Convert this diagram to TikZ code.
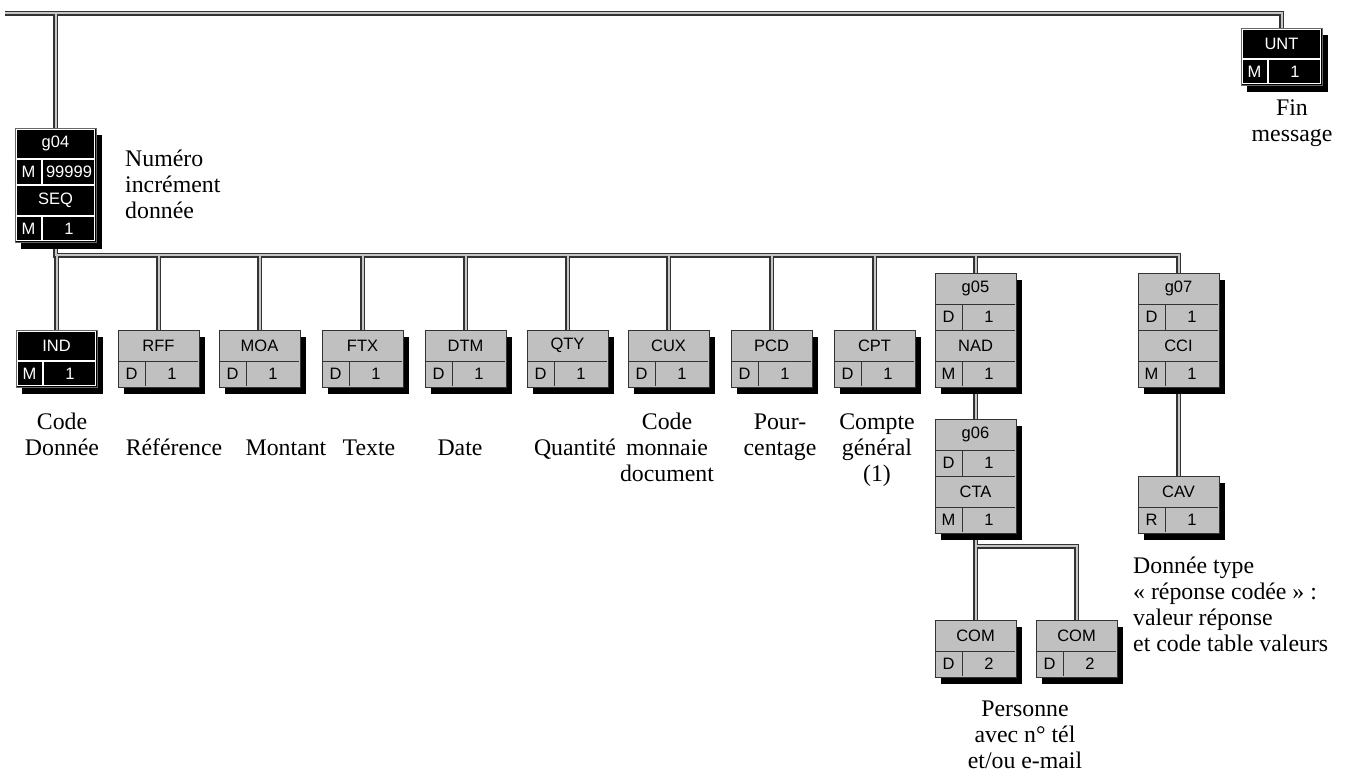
\documentclass[tikz,border=0pt]{standalone}
\usepackage{fontspec}
\setmainfont{Liberation Serif}
\newfontfamily\cellfam{Liberation Sans}
\pgfdeclarelayer{bg}
\pgfsetlayers{bg,main}
\definecolor{boxgray}{HTML}{C0C0C0}
\newcommand{\lblfont}{\fontsize{23.8}{26}\selectfont}
\newcommand{\cellfont}{\cellfam\fontsize{16.5}{18}\selectfont}
\tikzset{
  conndark/.style={line width=5pt, draw=black!80},
  connlight/.style={line width=2pt, draw=gray!45},
  shadowfill/.style={fill=black},
  boxnode/.style={rectangle, anchor=north west, minimum width=81pt, inner sep=0pt, outer sep=0pt, draw=none},
  celltxt/.style={font=\cellfont, inner sep=0pt},
  lbl/.style={font=\lblfont, inner sep=0pt, anchor=north, align=center},
  lbll/.style={font=\lblfont, inner sep=0pt, anchor=north west, align=left},
  blkouter/.style={fill=black, draw=gray!80!black, line width=0.8pt},
  blkinner/.style={draw=white, line width=1.1pt},
  blksep/.style={draw=white, line width=1.3pt},
  blktext/.style={text=white},
  gryouter/.style={fill=boxgray, draw=black!80, line width=1pt},
  gryinner/.style={draw=none},
  grysep/.style={draw=black!80, line width=1pt},
  grytext/.style={text=black},
}
% simple segment box: name, x, y, label, status, count, kind
\newcommand{\segbox}[7]{%
  \fill[shadowfill] (#2+6,#3+7) rectangle ++(81,57);
  \node[boxnode, minimum height=57pt] (#1) at (#2,#3) {};
  \path[#7outer] (#2,#3) rectangle ++(81,57);
  \path[#7inner] (#2+1.6,#3+1.6) rectangle (#2+79.4,#3+55.4);
  \path[#7sep] (#2+0.8,#3+31) -- (#2+80.2,#3+31) (#2+27,#3+31) -- (#2+27,#3+56.2);
  \node[celltxt,#7text] (#1-a) at (#2+40.5,#3+15.5) {#4};
  \node[celltxt,#7text] (#1-b) at (#2+13.5,#3+44) {#5};
  \node[celltxt,#7text] (#1-c) at (#2+54,#3+44) {#6};
}
% group box (4 rows): name, x, y, glabel, gstatus, gcount, seglabel, segstatus, segcount; kind in \curkind
\def\curkind{gry}
\newcommand{\grpbox}[9]{%
  \fill[shadowfill] (#2+6,#3+7) rectangle ++(81,114);
  \node[boxnode, minimum height=114pt] (#1) at (#2,#3) {};
  \path[\curkind outer] (#2,#3) rectangle ++(81,114);
  \path[\curkind inner] (#2+1.6,#3+1.6) rectangle (#2+79.4,#3+112.4);
  \path[\curkind sep] (#2+0.8,#3+31) -- (#2+80.2,#3+31)
     (#2+0.8,#3+57) -- (#2+80.2,#3+57)
     (#2+0.8,#3+88) -- (#2+80.2,#3+88)
     (#2+27,#3+31) -- (#2+27,#3+57)
     (#2+27,#3+88) -- (#2+27,#3+113.2);
  \node[celltxt,\curkind text] (#1-a) at (#2+40.5,#3+15.5) {#4};
  \node[celltxt,\curkind text] (#1-b) at (#2+13.5,#3+44) {#5};
  \node[celltxt,\curkind text] (#1-c) at (#2+54,#3+44) {#6};
  \node[celltxt,\curkind text] (#1-d) at (#2+40.5,#3+72.5) {#7};
  \node[celltxt,\curkind text] (#1-e) at (#2+13.5,#3+101) {#8};
  \node[celltxt,\curkind text] (#1-f) at (#2+54,#3+101) {#9};
}
\begin{document}
\begin{tikzpicture}[x=1pt,y=-1pt]
\useasboundingbox (0,0) rectangle (1346,774);
\coordinate (topL) at (5,13);
\coordinate (bar2) at (0,255);
\coordinate (brk) at (0,546);

\def\curkind{blk}
\grpbox{g04}{15}{128}{g04}{M}{99999}{SEQ}{M}{1}
\segbox{unt}{1241}{28}{UNT}{M}{1}{blk}
\segbox{ind}{16}{330}{IND}{M}{1}{blk}
\def\curkind{gry}
\segbox{rff}{118}{330}{RFF}{D}{1}{gry}
\segbox{moa}{219}{330}{MOA}{D}{1}{gry}
\segbox{ftx}{322}{330}{FTX}{D}{1}{gry}
\segbox{dtm}{425}{330}{DTM}{D}{1}{gry}
\segbox{qty}{527}{330}{QTY}{D}{1}{gry}
\segbox{cux}{628}{330}{CUX}{D}{1}{gry}
\segbox{pcd}{731}{330}{PCD}{D}{1}{gry}
\segbox{cpt}{834}{330}{CPT}{D}{1}{gry}
\grpbox{g05}{935}{273}{g05}{D}{1}{NAD}{M}{1}
\grpbox{g06}{935}{419}{g06}{D}{1}{CTA}{M}{1}
\segbox{com1}{935}{620}{COM}{D}{2}{gry}
\segbox{com2}{1036}{620}{COM}{D}{2}{gry}
\grpbox{g07}{1138}{273}{g07}{D}{1}{CCI}{M}{1}
\segbox{cav}{1138}{476}{CAV}{R}{1}{gry}

\begin{pgfonlayer}{bg}
\foreach \s in {conndark,connlight}{
  \draw[\s] (topL) -| (unt.north);
  \draw[\s] (topL -| g04.north) -- (g04.north);
  \draw[\s] (g04.south) |- (bar2 -| g07.north) -- (g07.north);
  \foreach \n in {ind,rff,moa,ftx,dtm,qty,cux,pcd,cpt,g05}{
    \draw[\s] (bar2 -| \n.north) -- (\n.north);
  }
  \draw[\s] (g05.south) -- (g06.north);
  \draw[\s] (g06.south) -- (com1.north);
  \draw[\s] (brk -| com1.north) -| (com2.north);
  \draw[\s] (g07.south) -- (cav.north);
}
\end{pgfonlayer}

\node[lbll] (l-g04) at (125,147.8) {\strut Numéro\\incrément\\donnée};
\node[lbl] (l-unt) at (1292,96.8) {\strut Fin\\message};
\node[lbl] (l-ind) at (62,410.8) {\strut Code\\Donnée};
\node[lbl] (l-rff) at (174,436.8) {\strut Référence};
\node[lbl] (l-moa) at (286,436.8) {\strut Montant};
\node[lbl] (l-ftx) at (369,436.8) {\strut Texte};
\node[lbl] (l-dtm) at (460,436.8) {\strut Date};
\node[lbl] (l-qty) at (575,436.8) {\strut Quantité};
\node[lbl] (l-cux) at (667,410.8) {\strut Code\\monnaie\\document};
\node[lbl] (l-pcd) at (780,410.8) {\strut Pour-\\centage};
\node[lbl] (l-cpt) at (877,410.8) {\strut Compte\\général\\(1)};
\node[lbll] (l-cav) at (1133,554.8) {\strut Donnée type\\« réponse codée » :\\valeur réponse\\et code table valeurs};
\node[lbl] (l-com) at (1025,698.5) {\strut Personne\\avec n° tél\\et/ou e-mail};
\end{tikzpicture}
\end{document}
